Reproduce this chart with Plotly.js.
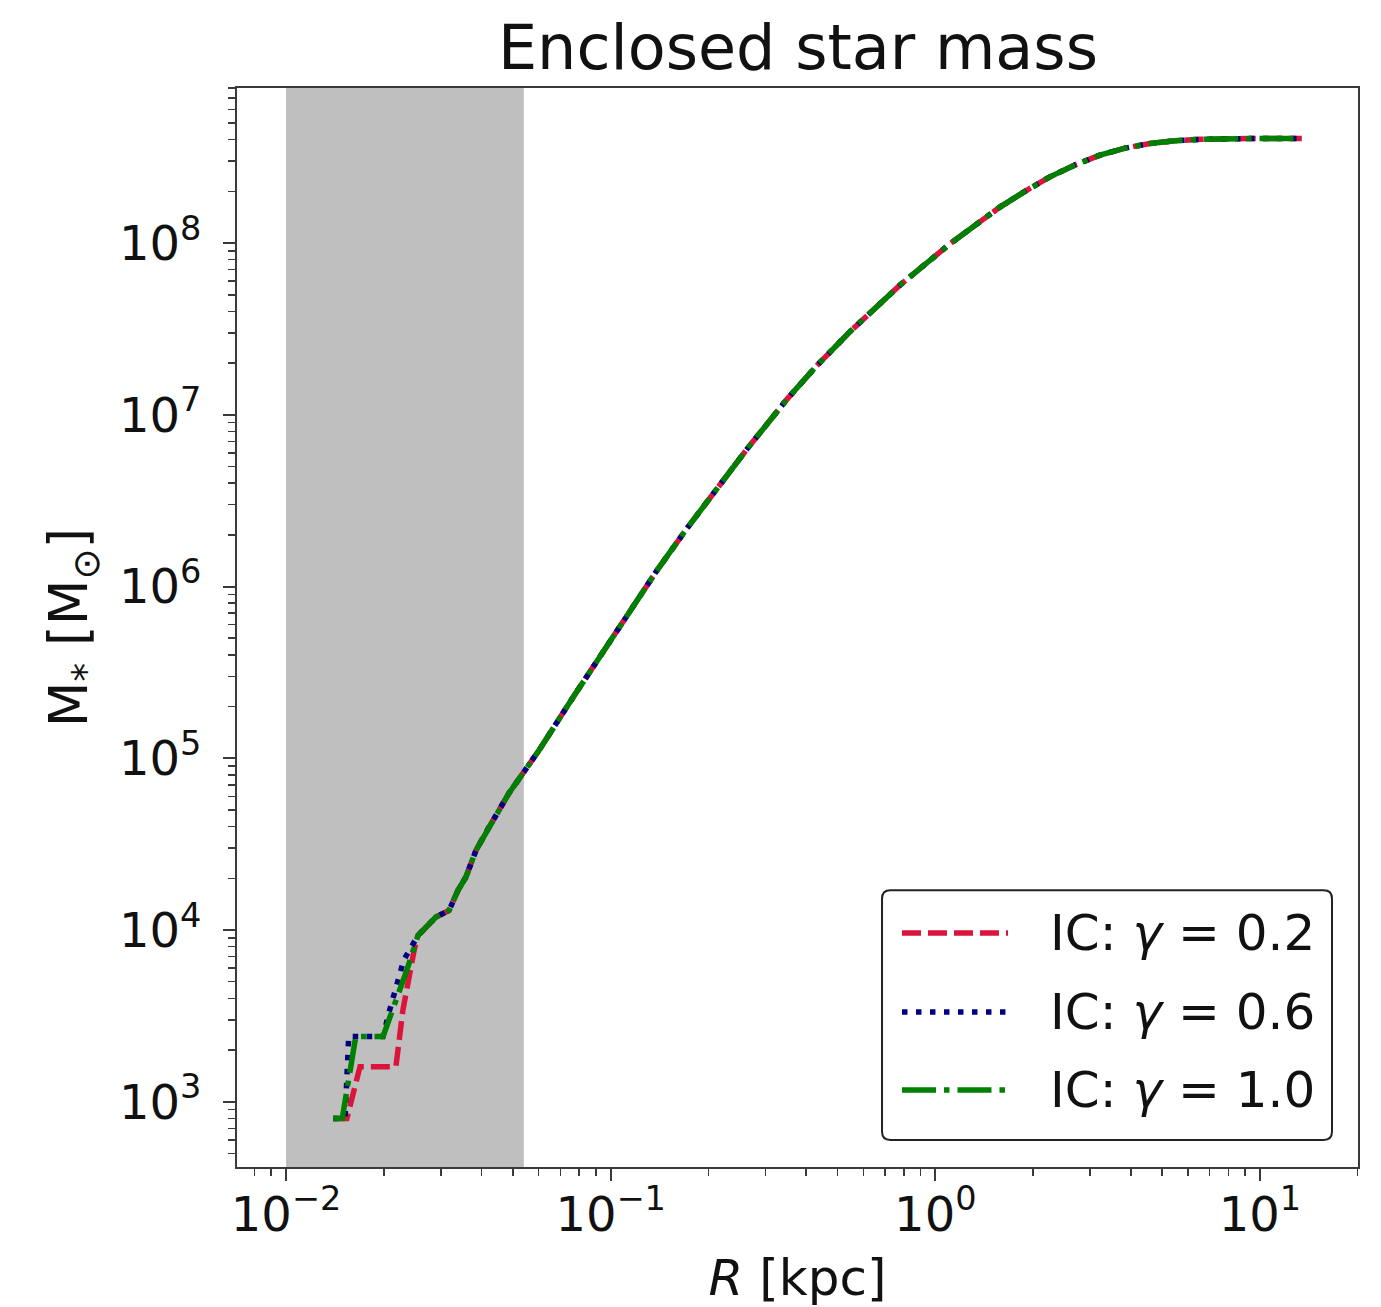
<!DOCTYPE html>
<html>
<head>
<meta charset="utf-8">
<script src="https://cdn.plot.ly/plotly-3.0.1.min.js"></script>
<style>html,body{margin:0;padding:0;background:#fff;}#chart{width:1381px;height:1307px;}</style>
</head>
<body>
<div id="chart"></div>
<script>
// ---- data ----
const seriesNames = ['IC: <i>γ</i> = 0.2', 'IC: <i>γ</i> = 0.6', 'IC: <i>γ</i> = 1.0'];
const seriesColors = ['#dc143c', '#000080', '#008000'];

// inner (resolution-limited) parts, R in kpc, M in Msun
const R_g02_inner = [0.01396, 0.01540, 0.01690, 0.02180, 0.02290, 0.02390, 0.02480, 0.02550];
const M_g02_inner = [800, 800, 1600, 1600, 3400, 5300, 7600, 9300];
const R_g06_inner = [0.01396, 0.01520, 0.01560, 0.01990, 0.02075, 0.02306, 0.02550];
const M_g06_inner = [800, 800, 2400, 2400, 3300, 6700, 9300];
const R_g10_inner = [0.01396, 0.01490, 0.01640, 0.01990, 0.02360, 0.02550];
const M_g10_inner = [800, 800, 2400, 2400, 5900, 9300];

// shared outer profile (the three curves overlap)
const R_outer = [0.02897, 0.03177, 0.0339, 0.0358, 0.0385, 0.0422, 0.0486, 0.0537, 0.0601, 0.0766, 0.0927, 0.1146, 0.1389, 0.1718, 0.2125, 0.2628, 0.349, 0.383, 0.43, 0.546, 0.778, 1.109, 1.581, 1.888, 2.254, 2.692, 3.213, 3.84, 4.58, 5.47, 6.53, 9.31, 13.45];
const M_outer = [11900, 13000, 17100, 20300, 29200, 39700, 62600, 81800, 111000, 226600, 387000, 713000, 1.242e6, 2.18e6, 3.75e6, 6.31e6, 1.23e7, 1.50e7, 1.92e7, 3.05e7, 5.69e7, 9.89e7, 1.62e8, 2.0e8, 2.43e8, 2.85e8, 3.25e8, 3.57e8, 3.80e8, 3.94e8, 4.02e8, 4.06e8, 4.07e8];

// shaded (unresolved) region in R [kpc]; spans the full height of the axes
const bandR = [0.01, 0.054];
const bandM = [1, 1e10];

// tick labels
const xTickVals = [0.01, 0.1, 1, 10];
const xTickText = ['10<sup>−2</sup>', '10<sup>−1</sup>', '10<sup>0</sup>', '10<sup>1</sup>'];
const yTickVals = [1e3, 1e4, 1e5, 1e6, 1e7, 1e8];
const yTickText = ['10<sup>3</sup>', '10<sup>4</sup>', '10<sup>5</sup>', '10<sup>6</sup>', '10<sup>7</sup>', '10<sup>8</sup>'];

// ---- styles ----
const LW = 5.5;
const dashes = ['19px,7px', '5.5px,8.5px', '34px,8px,5.5px,8px'];
const FONT = 'DejaVu Sans, Liberation Sans, sans-serif';
const AXC = '#3a3a3a';

function minorVals(kmin, kmax) {
  const v = [];
  for (let k = kmin; k <= kmax; k++) for (let m = 2; m <= 9; m++) v.push(m * Math.pow(10, k));
  return v;
}

const xs = [R_g02_inner.concat(R_outer), R_g06_inner.concat(R_outer), R_g10_inner.concat(R_outer)];
const ys = [M_g02_inner.concat(M_outer), M_g06_inner.concat(M_outer), M_g10_inner.concat(M_outer)];

const bandTrace = {
  x: [bandR[0], bandR[1], bandR[1], bandR[0], bandR[0]],
  y: [bandM[0], bandM[0], bandM[1], bandM[1], bandM[0]],
  type: 'scatter', mode: 'lines', fill: 'toself', fillcolor: '#bfbfbf',
  line: {width: 0, color: 'rgba(0,0,0,0)'}, hoverinfo: 'skip', showlegend: false
};

const traces = [bandTrace].concat(xs.map((x, i) => ({
  x: x, y: ys[i], type: 'scatter', mode: 'lines', name: seriesNames[i],
  line: {color: seriesColors[i], width: LW, dash: dashes[i]},
  showlegend: false
})));

// manual legend (matplotlib style)
const L = {x0: 0.5754, x1: 0.9768, y0: 0.025, y1: 0.2566, rx: 0.0075, ry: 0.0078};
const legendPath = `M${L.x0 + L.rx},${L.y0} L${L.x1 - L.rx},${L.y0} Q${L.x1},${L.y0} ${L.x1},${L.y0 + L.ry} L${L.x1},${L.y1 - L.ry} Q${L.x1},${L.y1} ${L.x1 - L.rx},${L.y1} L${L.x0 + L.rx},${L.y1} Q${L.x0},${L.y1} ${L.x0},${L.y1 - L.ry} L${L.x0},${L.y0 + L.ry} Q${L.x0},${L.y0} ${L.x0 + L.rx},${L.y0} Z`;
const entryY = [0.2168, 0.1436, 0.0713];

const shapes = [
  {type: 'path', xref: 'paper', yref: 'paper', path: legendPath, fillcolor: 'rgba(255,255,255,0.9)',
   line: {color: '#222', width: 2}, layer: 'above'}
];
const annotations = [];
entryY.forEach((yy, i) => {
  shapes.push({type: 'line', xref: 'paper', yref: 'paper', x0: 0.5932, x1: 0.6878, y0: yy, y1: yy,
    line: {color: seriesColors[i], width: LW, dash: dashes[i]}, layer: 'above'});
  annotations.push({xref: 'paper', yref: 'paper', x: 0.7235, y: yy, xanchor: 'left', yanchor: 'middle',
    text: seriesNames[i], showarrow: false, font: {family: FONT, size: 50, color: '#111'}});
});

const layout = {
  width: 1381, height: 1307,
  margin: {l: 237, r: 23, t: 88, b: 140, pad: 0},
  paper_bgcolor: '#fff', plot_bgcolor: '#fff',
  font: {family: FONT, color: '#111'},
  title: {text: 'Enclosed star mass', font: {family: FONT, size: 62, color: '#111'},
          x: 0.5778, xref: 'container', xanchor: 'center', y: 0.964, yref: 'container', yanchor: 'middle'},
  xaxis: {
    type: 'log', range: [-2.151, 1.302],
    tickmode: 'array', tickvals: xTickVals, ticktext: xTickText,
    ticks: 'outside', ticklen: 12, tickwidth: 2, tickcolor: AXC,
    minor: {tickmode: 'array', tickvals: minorVals(-3, 1), ticks: 'outside', ticklen: 7, tickwidth: 1.5, tickcolor: AXC, showgrid: false},
    showline: true, linecolor: AXC, linewidth: 2, mirror: true,
    showgrid: false, zeroline: false,
    ticklabelstandoff: -8,
    tickfont: {family: FONT, size: 48, color: '#111'},
    title: {text: '<i>R</i> [kpc]', font: {family: FONT, size: 50, color: '#111'}, standoff: 20}
  },
  yaxis: {
    type: 'log', range: [2.620, 8.903],
    tickmode: 'array', tickvals: yTickVals, ticktext: yTickText,
    ticks: 'outside', ticklen: 12, tickwidth: 2, tickcolor: AXC,
    minor: {tickmode: 'array', tickvals: minorVals(2, 8), ticks: 'outside', ticklen: 7, tickwidth: 1.5, tickcolor: AXC, showgrid: false},
    showline: true, linecolor: AXC, linewidth: 2, mirror: true,
    showgrid: false, zeroline: false,
    ticklabelstandoff: 12,
    tickfont: {family: FONT, size: 48, color: '#111'},
    title: {text: 'M<sub>*</sub> [M<sub>⊙</sub>]', font: {family: FONT, size: 53, color: '#111'}, standoff: 14}
  },
  shapes: shapes,
  annotations: annotations,
  showlegend: false
};

Plotly.newPlot('chart', traces, layout, {staticPlot: true, displayModeBar: false});
</script>
</body>
</html>
